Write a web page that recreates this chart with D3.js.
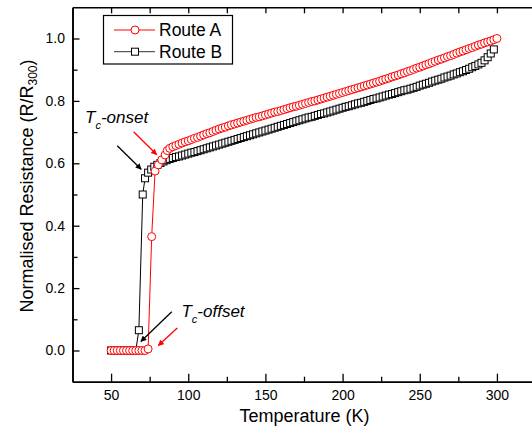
<!DOCTYPE html>
<html>
<head>
<meta charset="utf-8">
<script src="https://cdn.jsdelivr.net/npm/d3@7"></script>
<style>
  body { margin: 0; background: #fff; }
  svg { display: block; font-family: "Liberation Sans", Arial, sans-serif; }
</style>
</head>
<body>
<svg width="532" height="434"></svg>
<script>
// Route A (red circles): temperature (K) and R/R300
const tempA = [50, 52, 54, 56, 58, 60, 62, 64, 66, 68, 70, 72, 74, 76.3, 78.5, 80.6, 82.8, 85, 86.4,
  88, 90, 92, 94, 96, 98, 100, 102, 104, 106, 108, 110, 112, 114, 116, 118, 120,
  122, 124, 126, 128, 130, 132, 134, 136, 138, 140, 142, 144, 146, 148, 150,
  152, 154, 156, 158, 160, 162, 164, 166, 168, 170, 172, 174, 176, 178, 180,
  182, 184, 186, 188, 190, 192, 194, 196, 198, 200, 202, 204, 206, 208, 210,
  212, 214, 216, 218, 220, 222, 224, 226, 228, 230, 232, 234, 236, 238, 240,
  242, 244, 246, 248, 250, 252, 254, 256, 258, 260, 262, 264, 266, 268, 270,
  272, 274, 276, 278, 280, 282, 284, 286, 288, 290, 292, 294, 296, 298, 300];
const resA = [0, 0, 0, 0, 0, 0, 0, 0, 0, 0, 0, 0, 0.005, 0.365, 0.575, 0.595, 0.611, 0.627, 0.641,
  0.648, 0.653, 0.657, 0.661, 0.665, 0.669, 0.672, 0.676, 0.680, 0.683, 0.687, 0.691, 0.695, 0.698, 0.702, 0.706, 0.710,
  0.713, 0.716, 0.720, 0.723, 0.726, 0.729, 0.732, 0.735, 0.738, 0.741, 0.744, 0.747, 0.749, 0.752, 0.755,
  0.758, 0.761, 0.764, 0.766, 0.769, 0.772, 0.775, 0.778, 0.781, 0.783, 0.786, 0.789, 0.792, 0.795, 0.798,
  0.800, 0.803, 0.806, 0.809, 0.812, 0.815, 0.818, 0.821, 0.824, 0.827, 0.830, 0.833, 0.836, 0.839, 0.842,
  0.845, 0.848, 0.851, 0.854, 0.857, 0.860, 0.863, 0.867, 0.870, 0.873, 0.877, 0.880, 0.883, 0.887, 0.890,
  0.894, 0.897, 0.901, 0.905, 0.908, 0.912, 0.916, 0.919, 0.923, 0.927, 0.931, 0.934, 0.938, 0.942, 0.945,
  0.949, 0.953, 0.957, 0.960, 0.964, 0.968, 0.971, 0.975, 0.979, 0.982, 0.986, 0.989, 0.992, 0.996, 1.000];

// Route B (black squares)
const tempB = [50, 52, 54, 56, 58, 60, 62, 64, 66, 68, 70.5, 72, 74, 76, 78, 80, 82, 84, 86,
  88, 90, 92, 94, 96, 98, 100, 102, 104, 106, 108, 110, 112, 114, 116, 118, 120,
  122, 124, 126, 128, 130, 132, 134, 136, 138, 140, 142, 144, 146, 148, 150,
  152, 154, 156, 158, 160, 162, 164, 166, 168, 170, 172, 174, 176, 178, 180,
  182, 184, 186, 188, 190, 192, 194, 196, 198, 200, 202, 204, 206, 208, 210,
  212, 214, 216, 218, 220, 222, 224, 226, 228, 230, 232, 234, 236, 238, 240,
  242, 244, 246, 248, 250, 252, 254, 256, 258, 260, 262, 264, 266, 268, 270,
  272, 274, 276, 278, 280, 282, 284, 286, 288, 290, 292, 294, 296, 298];
const resB = [0, 0, 0, 0, 0, 0, 0, 0, 0, 0.065, 0.5, 0.552, 0.570, 0.580, 0.589, 0.595, 0.601, 0.606, 0.610,
  0.614, 0.617, 0.620, 0.622, 0.625, 0.628, 0.631, 0.634, 0.636, 0.639, 0.642, 0.645, 0.648, 0.651, 0.654, 0.657, 0.660,
  0.663, 0.666, 0.669, 0.672, 0.675, 0.678, 0.681, 0.684, 0.687, 0.690, 0.693, 0.696, 0.699, 0.702, 0.705,
  0.708, 0.711, 0.714, 0.717, 0.720, 0.723, 0.726, 0.729, 0.732, 0.735, 0.738, 0.741, 0.744, 0.747, 0.749,
  0.752, 0.755, 0.758, 0.760, 0.763, 0.766, 0.769, 0.772, 0.775, 0.778, 0.781, 0.783, 0.786, 0.789, 0.792,
  0.794, 0.797, 0.800, 0.803, 0.806, 0.808, 0.811, 0.814, 0.817, 0.820, 0.822, 0.825, 0.828, 0.831, 0.834,
  0.836, 0.839, 0.842, 0.845, 0.849, 0.852, 0.855, 0.858, 0.862, 0.865, 0.868, 0.871, 0.875, 0.878, 0.881,
  0.885, 0.888, 0.892, 0.895, 0.899, 0.903, 0.908, 0.912, 0.917, 0.922, 0.930, 0.940, 0.952, 0.965];

const xTicks = [50, 100, 150, 200, 250, 300];
const xMinor = [75, 125, 175, 225, 275];
const yTicks = [0, 0.2, 0.4, 0.6, 0.8, 1.0];
const yMinor = [0.1, 0.3, 0.5, 0.7, 0.9];
const seriesNames = ['Route A', 'Route B'];

// annotation arrows in data units: [x1, y1, x2(tip), y2(tip), colour]
const arrows = [
  [54.0, 0.656, 69.5, 0.581, '#000'],
  [64.6, 0.701, 79.5, 0.628, '#f00'],
  [89.3, 0.124, 69.3, 0.029, '#000'],
  [92.9, 0.072, 80.6, 0.016, '#f00']
];
const labels = [
  { x: 33.1, y: 0.728, rest: '-onset' },
  { x: 95.6, y: 0.108, rest: '-offset' }
];

const svg = d3.select('svg');
const x = d3.scaleLinear().domain([25, 325]).range([72.5, 535.5]);
const y = d3.scaleLinear().domain([-0.1, 1.1]).range([381.7, 7.3]);

const defs = svg.append('defs');
['#000', '#f00'].forEach((c, i) => {
  defs.append('marker')
    .attr('id', 'ah' + i)
    .attr('viewBox', '0 0 10 10')
    .attr('refX', 9).attr('refY', 5)
    .attr('markerWidth', 7).attr('markerHeight', 6)
    .attr('markerUnits', 'userSpaceOnUse')
    .attr('orient', 'auto')
    .append('path').attr('d', 'M0,0L10,5L0,10Z').attr('fill', c);
});

// axes
const bottom = svg.append('g').attr('transform', `translate(0,${y.range()[0]})`)
  .call(d3.axisBottom(x).tickValues(xTicks).tickSize(-8).tickSizeOuter(0).tickPadding(8.6));
svg.append('g').attr('transform', `translate(0,${y.range()[0]})`)
  .call(d3.axisBottom(x).tickValues(xMinor).tickSize(-5).tickSizeOuter(0).tickFormat(''));
svg.append('g').attr('transform', `translate(0,${y.range()[1]})`)
  .call(d3.axisTop(x).tickValues(xTicks.concat(xMinor)).tickSize(-6).tickSizeOuter(0).tickFormat(''));
const left = svg.append('g').attr('transform', `translate(${x.range()[0]},0)`)
  .call(d3.axisLeft(y).tickValues(yTicks).tickSize(-7).tickSizeOuter(0).tickPadding(7.5).tickFormat(d3.format('.1f')));
svg.append('g').attr('transform', `translate(${x.range()[0]},0)`)
  .call(d3.axisLeft(y).tickValues(yMinor).tickSize(-5).tickSizeOuter(0).tickFormat(''));

svg.selectAll('.domain').attr('stroke', '#000').attr('stroke-width', 1.6);
svg.selectAll('.tick line').attr('stroke', '#000').attr('stroke-width', 1.3);
svg.selectAll('.tick text').attr('font-size', 14).attr('fill', '#000')
  .attr('font-family', '"Liberation Sans", Arial, sans-serif');

// axis titles
svg.append('text')
  .attr('x', 304.5).attr('y', 422)
  .attr('text-anchor', 'middle').attr('font-size', 18)
  .text('Temperature (K)');
const yt = svg.append('text')
  .attr('transform', 'translate(33,186) rotate(-90)')
  .attr('text-anchor', 'middle').attr('font-size', 18);
yt.append('tspan').text('Normalised Resistance (R/R');
yt.append('tspan').attr('font-size', 12).attr('dy', 4).text('300');
yt.append('tspan').attr('dy', -4).text(')');

// series
const ptsA = tempA.map((t, i) => [t, resA[i]]);
const ptsB = tempB.map((t, i) => [t, resB[i]]);
const line = d3.line().x(d => x(d[0])).y(d => y(d[1]));

svg.append('path').datum(ptsB).attr('d', line)
  .attr('fill', 'none').attr('stroke', '#000').attr('stroke-width', 1);
svg.append('g').selectAll('rect').data(ptsB).join('rect')
  .attr('x', d => x(d[0]) - 3.5).attr('y', d => y(d[1]) - 3.5)
  .attr('width', 7).attr('height', 7)
  .attr('fill', '#fff').attr('stroke', '#000').attr('stroke-width', 1);

svg.append('path').datum(ptsA).attr('d', line)
  .attr('fill', 'none').attr('stroke', '#f00').attr('stroke-width', 1);
svg.append('g').selectAll('circle').data(ptsA).join('circle')
  .attr('cx', d => x(d[0])).attr('cy', d => y(d[1])).attr('r', 4)
  .attr('fill', '#fff').attr('stroke', '#f00').attr('stroke-width', 1);

// annotations
svg.append('g').selectAll('line').data(arrows).join('line')
  .attr('x1', d => x(d[0])).attr('y1', d => y(d[1]))
  .attr('x2', d => x(d[2])).attr('y2', d => y(d[3]))
  .attr('stroke', d => d[4]).attr('stroke-width', 1.3)
  .attr('marker-end', d => d[4] === '#000' ? 'url(#ah0)' : 'url(#ah1)');

labels.forEach(l => {
  const t = svg.append('text').attr('x', x(l.x)).attr('y', y(l.y))
    .attr('font-size', 17).attr('font-style', 'italic');
  t.append('tspan').text('T');
  t.append('tspan').attr('font-size', 11).attr('dy', 6).text('c');
  t.append('tspan').attr('dy', -6).text(l.rest);
});

// legend
const lg = svg.append('g');
lg.append('rect').attr('x', 103.5).attr('y', 15.5).attr('width', 129).attr('height', 48.5)
  .attr('fill', '#fff').attr('stroke', '#000').attr('stroke-width', 1.2);
seriesNames.forEach((name, i) => {
  const cy = 30 + i * 21.7;
  const col = i === 0 ? '#f00' : '#333';
  lg.append('line').attr('x1', 114).attr('x2', 155).attr('y1', cy).attr('y2', cy)
    .attr('stroke', col).attr('stroke-width', 1);
  if (i === 0) {
    lg.append('circle').attr('cx', 135).attr('cy', cy).attr('r', 4)
      .attr('fill', '#fff').attr('stroke', '#f00');
  } else {
    lg.append('rect').attr('x', 131.5).attr('y', cy - 3.5).attr('width', 7).attr('height', 7)
      .attr('fill', '#fff').attr('stroke', '#000');
  }
  lg.append('text').attr('x', 159).attr('y', cy + 6.3).attr('font-size', 17.5).text(name);
});
</script>
</body>
</html>
